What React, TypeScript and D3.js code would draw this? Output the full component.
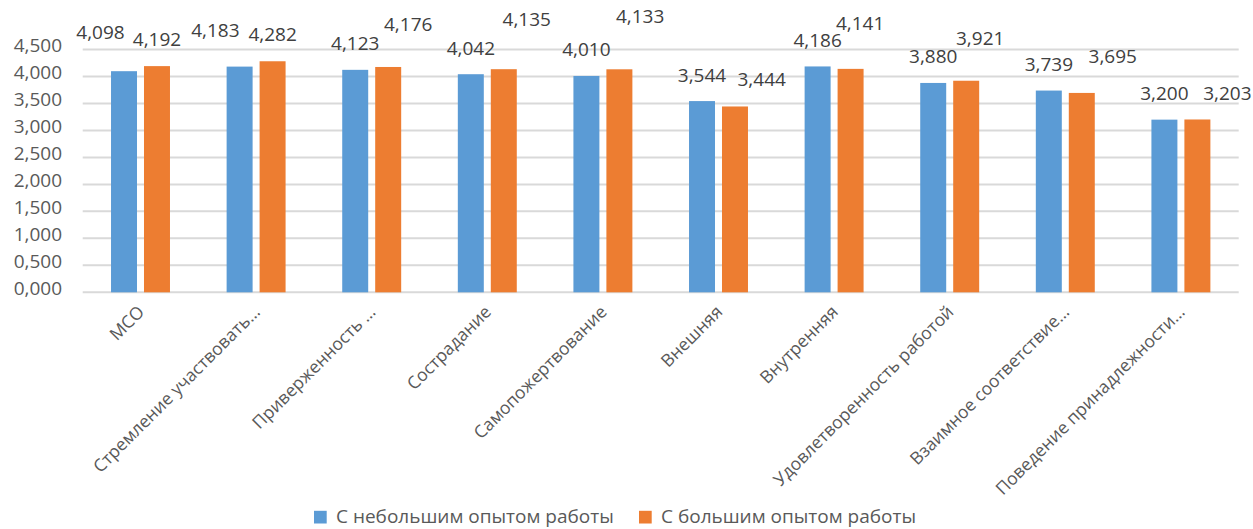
import React from "react";
import * as d3 from "d3";

const categories = [
  "МСО",
  "Стремление участвовать…",
  "Приверженность …",
  "Сострадание",
  "Самопожертвование",
  "Внешняя",
  "Внутренняя",
  "Удовлетворенность работой",
  "Взаимное соответствие…",
  "Поведение принадлежности…",
];

const seriesNames = ["С небольшим опытом работы", "С большим опытом работы"];

const lowExperience = [4.098, 4.183, 4.123, 4.042, 4.01, 3.544, 4.186, 3.88, 3.739, 3.2];
const highExperience = [4.192, 4.282, 4.176, 4.135, 4.133, 3.444, 4.141, 3.921, 3.695, 3.203];

const yTicks = [0, 0.5, 1, 1.5, 2, 2.5, 3, 3.5, 4, 4.5];

const colors = ["#5b9bd5", "#ed7d31"];

// Hand-placed offsets for data labels that would otherwise collide
const labelNudge: [number, number][][] = [
  [[-23.5, -13], [-24.3, -10.6], [0, 0], [0, 0], [0, 0], [0, 0], [0, 0], [0, 0], [0, 0], [0, 0]],
  [[0, -1], [0, -1], [20, -16.3], [23, -23.5], [20.7, -27], [26.7, -1], [9.5, -19], [14, -16], [31, -10.4], [30, 0]],
];

const W = 1253;
const H = 529;
const FONT = "'Open Sans', 'Noto Sans', sans-serif";

const ru = d3.formatLocale({ decimal: ",", thousands: " ", grouping: [3], currency: ["", ""] });
const fmt = ru.format(".3f");

export default function App() {
  const series = [lowExperience, highExperience];

  const x0 = d3.scaleBand<string>().domain(categories).range([82.7, 1238.7]).padding(0);
  const groupW = x0.bandwidth() * 0.51;
  const x1 = d3
    .scaleBand<number>()
    .domain([0, 1])
    .range([0, groupW])
    .paddingInner(0.212)
    .paddingOuter(0);
  const y = d3.scaleLinear().domain([0, 4.5]).range([292.3, 49.5]);

  const groupStart = (c: string) => (x0(c) ?? 0) + (x0.bandwidth() - groupW) / 2;

  return (
    <svg
      width={W}
      height={H}
      style={{ position: "absolute", left: 0, top: 0, background: "#fff" }}
      fontFamily={FONT}
    >
      {/* gridlines */}
      {yTicks.map((t) => (
        <line
          key={"g" + t}
          x1={82.7}
          x2={1238.7}
          y1={y(t)}
          y2={y(t)}
          stroke="#d9d9d9"
          strokeWidth={2}
        />
      ))}
      {/* y tick labels */}
      {yTicks.map((t) => (
        <text
          key={"t" + t}
          x={62}
          y={y(t) + 2.5}
          textAnchor="end"
          fontSize={19}
          fill="#595959"
        >
          {fmt(t)}
        </text>
      ))}
      {/* bars */}
      {series.map((vals, s) =>
        vals.map((v, i) => {
          const c = categories[i];
          const bx = groupStart(c) + (x1(s) ?? 0);
          return (
            <rect
              key={`b${s}-${i}`}
              x={bx}
              y={y(v)}
              width={x1.bandwidth()}
              height={y(0) - y(v)}
              fill={colors[s]}
            />
          );
        })
      )}
      {/* data labels */}
      {series.map((vals, s) =>
        vals.map((v, i) => {
          const c = categories[i];
          const cx = groupStart(c) + (x1(s) ?? 0) + x1.bandwidth() / 2;
          const [dx, dy] = labelNudge[s][i];
          return (
            <text
              key={`l${s}-${i}`}
              x={cx + dx}
              y={y(v) - 19.5 + dy}
              textAnchor="middle"
              fontSize={19}
              fill="#404040"
            >
              {fmt(v)}
            </text>
          );
        })
      )}
      {/* category labels */}
      {categories.map((c) => {
        const cx = (x0(c) ?? 0) + x0.bandwidth() / 2;
        return (
          <text
            key={"c" + c}
            transform={`translate(${cx + 5},${313}) rotate(-45)`}
            textAnchor="end"
            fontSize={17.5}
            fill="#595959"
          >
            {c}
          </text>
        );
      })}
      {/* legend */}
      {seriesNames.map((name, s) => {
        const lx = s === 0 ? 314 : 639;
        return (
          <g key={"lg" + s}>
            <rect x={lx} y={510.8} width={12.7} height={12.7} fill={colors[s]} />
            <text x={lx + 22} y={523.4} fontSize={19} fill="#595959">
              {name}
            </text>
          </g>
        );
      })}
    </svg>
  );
}
